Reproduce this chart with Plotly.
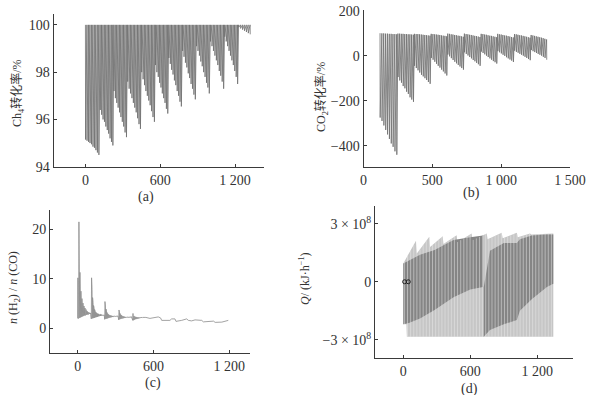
import plotly.graph_objects as go

W, H = 591, 395

# ---------------- (a) CH4 conversion (%) ----------------
A_CYCLE_START = [0, 118, 228, 338, 450, 561, 668, 778, 890, 1002, 1116, 1228]
A_CYCLE_END = [107, 219, 328, 440, 552, 659, 768, 880, 992, 1107, 1219, 1320]
A_TOP = 100.0
A_TROUGHS = [
    [95.15, 95.1, 95.05, 95.0, 94.95, 94.85, 94.8, 94.7, 94.6, 94.5],
    [96.4, 96.2, 96.0, 95.9, 95.7, 95.55, 95.4, 95.2, 95.05, 94.9],
    [97.2, 96.9, 96.7, 96.5, 96.3, 96.1, 95.9, 95.7, 95.45, 95.25],
    [97.6, 97.3, 97.1, 96.9, 96.7, 96.5, 96.3, 96.05, 95.8, 95.6],
    [98.0, 97.7, 97.45, 97.2, 97.0, 96.8, 96.6, 96.35, 96.1, 95.9],
    [98.3, 98.0, 97.8, 97.55, 97.35, 97.1, 96.9, 96.7, 96.45, 96.25],
    [98.6, 98.35, 98.1, 97.9, 97.65, 97.45, 97.2, 97.0, 96.75, 96.55],
    [98.9, 98.65, 98.4, 98.2, 97.95, 97.75, 97.5, 97.3, 97.05, 96.85],
    [99.1, 98.9, 98.7, 98.45, 98.25, 98.0, 97.8, 97.55, 97.35, 97.1],
    [99.3, 99.1, 98.9, 98.7, 98.5, 98.3, 98.05, 97.85, 97.6, 97.3],
    [99.5, 99.3, 99.1, 98.9, 98.7, 98.5, 98.3, 98.05, 97.8, 97.5],
    [99.9, 99.85, 99.8, 99.75, 99.7, 99.65, 99.6],
]
A_XTICKS = [0, 600, 1200]
A_XTICKTEXT = ["0", "600", "1 200"]
A_YTICKS = [94, 96, 98, 100]

# ---------------- (b) CO2 conversion (%) ----------------
B_CYCLE_START = [120, 250, 370, 492, 612, 733, 855, 975, 1097, 1218]
B_CYCLE_END = [241, 362, 483, 604, 725, 846, 967, 1088, 1210, 1330]
B_TOPS = [
    [100, 99, 99, 98, 98, 97, 97, 96, 96, 95],
    [98, 98, 97, 97, 96, 96, 95, 95, 94, 93],
    [97, 96, 96, 95, 94, 93, 92, 91, 90, 89],
    [97, 96, 95, 94, 93, 92, 90, 89, 88, 86],
    [98, 97, 95, 94, 92, 91, 89, 88, 86, 84],
    [98, 96, 95, 93, 92, 90, 88, 87, 85, 83],
    [97, 96, 94, 93, 91, 89, 88, 86, 84, 82],
    [97, 95, 94, 92, 90, 89, 87, 85, 83, 81],
    [96, 95, 93, 91, 90, 88, 86, 84, 82, 80],
    [92, 90, 88, 86, 84, 82, 80, 78, 75, 72],
]
B_TROUGHS = [
    [-275, -290, -310, -330, -350, -370, -390, -405, -425, -440],
    [-95, -110, -120, -135, -145, -160, -170, -185, -195, -205],
    [-45, -55, -65, -75, -85, -92, -100, -108, -117, -125],
    [-10, -18, -27, -36, -45, -53, -62, -70, -79, -88],
    [5, -3, -11, -19, -27, -34, -41, -48, -55, -62],
    [15, 8, 1, -6, -12, -19, -25, -32, -38, -45],
    [18, 12, 6, 0, -6, -12, -18, -24, -29, -35],
    [20, 15, 10, 4, -1, -7, -12, -17, -22, -28],
    [22, 17, 13, 8, 4, 0, -5, -10, -15, -20],
    [25, 20, 16, 12, 8, 4, 0, -5, -10, -18],
]
B_XTICKS = [0, 500, 1000, 1500]
B_XTICKTEXT = ["0", "500", "1 000", "1 500"]
B_YTICKS = [-400, -200, 0, 200]
B_YTICKTEXT = ["\u2212400", "\u2212200", "0", "200"]

# ---------------- (c) n(H2)/n(CO) ----------------
C_CYCLE_START = [0, 108, 214, 325, 436]
C_STEP = 4
C_PEAKS = [
    [10.2, 2.0, 21.5, 2.2, 11.3, 8.5, 7.5, 6.8, 6.0, 5.5, 5.1, 4.8, 4.5, 4.3, 4.1, 3.9, 3.8, 3.6, 3.5, 3.4, 3.3, 3.3, 3.2, 3.2, 3.1, 3.1],
    [10.2, 7.8, 6.2, 5.2, 4.6, 4.1, 3.8, 3.5, 3.3, 3.2, 3.1, 3.0, 2.95, 2.9, 2.9, 2.85, 2.8, 2.8, 2.8, 2.75, 2.75, 2.7, 2.7, 2.7, 2.7, 2.7],
    [5.4, 4.5, 3.9, 3.5, 3.2, 3.0, 2.9, 2.8, 2.7, 2.65, 2.6, 2.6, 2.55, 2.55, 2.5, 2.5, 2.5, 2.5, 2.45, 2.45, 2.45, 2.4, 2.4, 2.4, 2.4, 2.4, 2.4],
    [3.7, 3.3, 3.0, 2.8, 2.7, 2.6, 2.5, 2.45, 2.4, 2.4, 2.35, 2.35, 2.3, 2.3, 2.3, 2.3, 2.3, 2.25, 2.25, 2.25, 2.25, 2.2, 2.2, 2.2, 2.2, 2.2, 2.2],
    [3.0, 2.7, 2.5, 2.4, 2.35, 2.3, 2.3, 2.25, 2.25, 2.2, 2.2, 2.2, 2.2, 2.2, 2.2, 2.2, 2.2, 2.2, 2.2, 2.2, 2.2, 2.2, 2.2, 2.2, 2.2, 2.2],
]
C_BASES = [
    [2.0, 2.0, 2.0, 2.1, 2.1, 2.2, 2.2, 2.3, 2.3, 2.4, 2.4, 2.5, 2.5, 2.6, 2.6, 2.6, 2.7, 2.7, 2.7, 2.8, 2.8, 2.8, 2.9, 2.9, 2.9, 3.0],
    [1.9, 1.95, 2.0, 2.0, 2.05, 2.1, 2.1, 2.15, 2.2, 2.2, 2.25, 2.3, 2.3, 2.35, 2.4, 2.4, 2.45, 2.5, 2.5, 2.5, 2.55, 2.55, 2.6, 2.6, 2.6, 2.6],
    [1.8, 1.85, 1.9, 1.9, 1.95, 2.0, 2.0, 2.05, 2.1, 2.1, 2.15, 2.2, 2.2, 2.2, 2.25, 2.3, 2.3, 2.3, 2.35, 2.35, 2.4, 2.4, 2.4, 2.45, 2.45, 2.5, 2.5],
    [1.7, 1.75, 1.8, 1.85, 1.9, 1.95, 1.95, 2.0, 2.0, 2.05, 2.05, 2.1, 2.1, 2.1, 2.15, 2.15, 2.2, 2.2, 2.2, 2.2, 2.25, 2.25, 2.3, 2.3, 2.3, 2.35, 2.35],
    [1.6, 1.65, 1.7, 1.75, 1.8, 1.85, 1.9, 1.9, 1.95, 1.95, 2.0, 2.0, 2.05, 2.05, 2.1, 2.1, 2.1, 2.15, 2.15, 2.15, 2.2, 2.2, 2.2, 2.2, 2.25, 2.25],
]
C_TAIL_X = [540, 572, 612, 638, 656, 665, 730, 744, 770, 778, 823, 863, 876, 902, 929, 982, 995, 1035, 1075, 1088, 1141, 1192]
C_TAIL_Y = [2.2, 2.0, 2.1, 2.3, 2.1, 1.6, 1.6, 1.9, 1.9, 1.4, 1.6, 1.9, 1.6, 1.5, 1.7, 1.6, 1.3, 1.3, 1.45, 1.2, 1.25, 1.6]
C_XTICKS = [0, 600, 1200]
C_XTICKTEXT = ["0", "600", "1 200"]
C_YTICKS = [0, 10, 20]

# ---------------- (d) Q (kJ/h), values in units of 1e8 ----------------
D_SCALE = 1e8
D_TOP_X = [0, 114, 120, 233, 240, 353, 360, 478, 485, 612, 620, 747, 755, 881, 890, 1016, 1025, 1135, 1145, 1343]
D_TOP_Y = [0.95, 2.12, 1.45, 2.33, 1.8, 2.36, 1.95, 2.41, 2.05, 2.5, 2.15, 2.5, 2.2, 2.53, 2.25, 2.53, 2.3, 2.5, 2.45, 2.5]
D_BOT_X = [0, 28, 32, 1343]
D_BOT_Y = [-2.2, -2.2, -2.85, -2.85]
# denser (darker) part of the oscillation band: x samples, lower edge, upper edge
D_DARK_X = [
    [0, 50, 150, 280, 450, 600, 714],
    [720, 776, 900, 1017, 1044, 1150, 1286, 1343],
]
D_DARK_LO = [
    [-2.2, -2.13, -1.9, -1.46, -0.8, -0.4, -0.27],
    [-2.85, -2.5, -2.2, -1.98, -1.5, -0.9, -0.27, -0.1],
]
D_DARK_HI = [
    [0.95, 1.1, 1.4, 1.64, 2.16, 2.3, 2.4],
    [-0.3, 1.6, 2.0, 2.0, 2.2, 2.4, 2.45, 2.45],
]
# individual oscillation strokes in the band (sample times)
D_STROKE_X = [10, 38, 66, 94, 122, 150, 178, 206, 234, 262, 290, 318, 346, 374, 402, 430, 458,
              486, 514, 542, 570, 598, 626, 654, 682, 710, 738, 766, 794, 822, 850, 878, 906,
              934, 962, 990, 1018, 1046, 1074, 1102, 1130, 1158, 1186, 1214, 1242, 1270, 1298, 1326]
D_MARK_X = [12, 45]
D_MARK_Y = [0, 0]
D_YTICKS = [-3, 0, 3]
D_YTICKTEXT = ["\u22123 \u00d7 10<sup>8</sup>", "0", "3 \u00d7 10<sup>8</sup>"]
D_XTICKS = [0, 600, 1200]
D_XTICKTEXT = ["0", "600", "1 200"]

LINE = "#6e6e6e"
AXC = "#3a3a3a"
SERIF = "Liberation Serif, Times New Roman, serif"
MIXED = "Liberation Serif, Noto Sans CJK SC, serif"


def spike_path(starts, ends, tops, troughs, dx=1.0):
    xs, ys = [], []
    for s, e, tp, tr in zip(starts, ends, tops, troughs):
        n = len(tr)
        step = (e - s) / (n - 1) if n > 1 else 0
        for j in range(n):
            x = s + j * step
            xs += [x, x + dx]
            ys += [tp[j], tr[j]]
    return xs, ys


def interp(x, X, Y):
    if x <= X[0]:
        return Y[0]
    for i in range(1, len(X)):
        if x <= X[i]:
            t = (x - X[i - 1]) / (X[i] - X[i - 1]) if X[i] != X[i - 1] else 1
            return Y[i - 1] + t * (Y[i] - Y[i - 1])
    return Y[-1]


fig = go.Figure()

# (a)
a_tops = [[A_TOP] * len(t) for t in A_TROUGHS]
ax_, ay_ = spike_path(A_CYCLE_START, A_CYCLE_END, a_tops, A_TROUGHS)
fig.add_trace(go.Scatter(x=ax_, y=ay_, mode="lines", line=dict(color=LINE, width=0.8),
                         xaxis="x", yaxis="y", hoverinfo="skip"))

# (b)
bx_, by_ = spike_path(B_CYCLE_START, B_CYCLE_END, B_TOPS, B_TROUGHS)
fig.add_trace(go.Scatter(x=bx_, y=by_, mode="lines", line=dict(color=LINE, width=0.8),
                         xaxis="x2", yaxis="y2", hoverinfo="skip"))

# (c)
cx_, cy_ = [], []
for s, pk, bs in zip(C_CYCLE_START, C_PEAKS, C_BASES):
    for j in range(min(len(pk), len(bs))):
        x = s + j * C_STEP
        cx_ += [x, x + C_STEP / 2]
        cy_ += [bs[j], pk[j]]
cx_ += C_TAIL_X
cy_ += C_TAIL_Y
fig.add_trace(go.Scatter(x=cx_, y=cy_, mode="lines", line=dict(color="#8c8c8c", width=0.8),
                         xaxis="x3", yaxis="y3", hoverinfo="skip"))

# (d)
px = D_TOP_X + D_BOT_X[::-1]
py = [v * D_SCALE for v in D_TOP_Y + D_BOT_Y[::-1]]
fig.add_trace(go.Scatter(x=px, y=py, mode="lines", fill="toself", fillcolor="#c6c6c6",
                         line=dict(width=0), xaxis="x4", yaxis="y4", hoverinfo="skip"))
dxs, dys = [], []
for X, LO, HI in zip(D_DARK_X, D_DARK_LO, D_DARK_HI):
    hi = [min(h, interp(x, D_TOP_X, D_TOP_Y)) for x, h in zip(X, HI)]
    dxs += X + X[::-1] + [None]
    dys += [v * D_SCALE for v in hi] + [v * D_SCALE for v in LO[::-1]] + [None]
fig.add_trace(go.Scatter(x=dxs, y=dys, mode="lines", fill="toself", fillcolor="#858585",
                         line=dict(width=0), xaxis="x4", yaxis="y4", hoverinfo="skip"))
sx, sy = [], []
for x in D_STROKE_X:
    sx += [x, x, None]
    sy += [interp(x, D_BOT_X, D_BOT_Y) * D_SCALE, interp(x, D_TOP_X, D_TOP_Y) * D_SCALE, None]
fig.add_trace(go.Scatter(x=sx, y=sy, mode="lines", line=dict(color="rgba(235,235,235,0.5)", width=1),
                         xaxis="x4", yaxis="y4", hoverinfo="skip", connectgaps=False))
fig.add_trace(go.Scatter(x=D_MARK_X, y=D_MARK_Y, mode="markers",
                         marker=dict(symbol="circle-open", size=4, color="#222", line=dict(width=1)),
                         xaxis="x4", yaxis="y4", hoverinfo="skip"))


def px2x(p):
    return p / W


def px2y(p):
    return 1 - p / H


def axis(domain, rng, tv, tt, anchor, end_tick=True):
    # an extra unlabeled tick closes the axis line at its far end
    if end_tick:
        tv = list(tv) + [rng[1] - (rng[1] - rng[0]) * 0.002]
        tt = list(tt) + [""]
    return dict(domain=domain, range=rng, tickvals=tv, ticktext=tt, anchor=anchor,
                showline=True, linecolor=AXC, linewidth=1, ticks="inside", ticklen=3,
                tickcolor=AXC, showgrid=False, zeroline=False, automargin=False,
                tickfont=dict(family=SERIF, size=14, color="#333"))


fig.update_layout(
    width=W, height=H, margin=dict(l=0, r=0, t=0, b=0, autoexpand=False),
    paper_bgcolor="white", plot_bgcolor="white", showlegend=False,
    xaxis=axis([px2x(53.5), px2x(264.3)], [-256, 1434], A_XTICKS, A_XTICKTEXT, "y"),
    yaxis=axis([px2y(166.7), px2y(14)], [94, 100.46], A_YTICKS, [str(v) for v in A_YTICKS], "x"),
    xaxis2=axis([px2x(363.5), px2x(570)], [0, 1500], B_XTICKS, B_XTICKTEXT, "y2", end_tick=False),
    yaxis2=axis([px2y(166.7), px2y(10)], [-493.3, 203], B_YTICKS, B_YTICKTEXT, "x2"),
    xaxis3=axis([px2x(50), px2x(250)], [-219, 1364], C_XTICKS, C_XTICKTEXT, "y3"),
    yaxis3=axis([px2y(353.3), px2y(210)], [-5.05, 23.9], C_YTICKS, [str(v) for v in C_YTICKS], "x3"),
    xaxis4=axis([px2x(375), px2x(573.3)], [-253, 1522], D_XTICKS, D_XTICKTEXT, "y4"),
    yaxis4=axis([px2y(358.3), px2y(206)], [-3.96e8, 3.92e8], [v * D_SCALE for v in D_YTICKS], D_YTICKTEXT, "x4"),
)

ann = [
    ("Ch<sub>4</sub>转化率/%", 17, 93, -90),
    ("CO<sub>2</sub>转化率/%", 322, 97, -90),
    ("<i>n</i> (H<sub>2</sub>) / <i>n</i> (CO)", 14, 288, -90),
    ("<i>Q</i>/ (kJ·h<sup>\u22121</sup>)", 304, 278, -90),
    ("(a)", 146, 197, 0),
    ("(b)", 471.7, 193, 0),
    ("(c)", 153, 382.7, 0),
    ("(d)", 469, 389, 0),
]
for text, x, y, ang in ann:
    fig.add_annotation(text=text, x=px2x(x), y=px2y(y), xref="paper", yref="paper",
                       showarrow=False, textangle=ang, xanchor="center", yanchor="middle",
                       font=dict(family=MIXED, size=12 if ang else 14, color="#333"))

fig.write_html("out.html", config={"displayModeBar": False, "staticPlot": True},
               post_script="document.body.style.margin='0px';")
